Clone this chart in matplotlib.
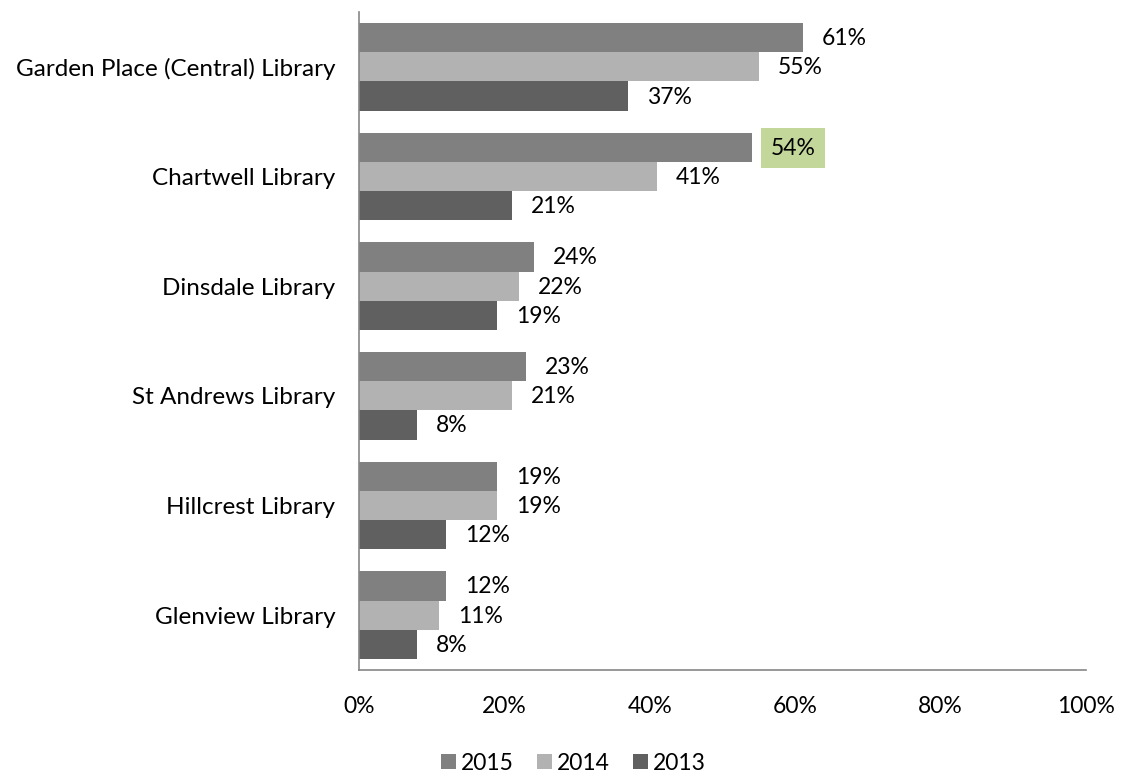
import matplotlib
matplotlib.use("Agg")
import matplotlib.pyplot as plt
from matplotlib.patches import Patch

categories = ["Garden Place (Central) Library", "Chartwell Library", "Dinsdale Library",
              "St Andrews Library", "Hillcrest Library", "Glenview Library"]
series_names = ["2015", "2014", "2013"]
v2015 = [61, 54, 24, 23, 19, 12]
v2014 = [55, 41, 22, 21, 19, 11]
v2013 = [37, 21, 19, 8, 12, 8]
xticks = [0, 20, 40, 60, 80, 100]
colors = ["#808080", "#B2B2B2", "#606060"]

plt.rcParams['font.family'] = ['Lato', 'DejaVu Sans']
fig = plt.figure(figsize=(11.21, 7.74), dpi=100)
ax = fig.add_axes([0.3203, 0.1344, 0.6485, 0.8501])

FS = 16.5
h = 29 / 109
offs = [-h, 0, h]
series = [v2015, v2014, v2013]
for s, (vals, off, col) in enumerate(zip(series, offs, colors)):
    for i, v in enumerate(vals):
        y = i + off
        ax.barh(y, v, height=h, color=col, edgecolor='none')
        bbox = None
        if s == 0 and i == 1:
            bbox = dict(boxstyle='square,pad=0.42', facecolor='#C4D79B', edgecolor='none')
        ax.annotate(f"{v}%", (v, y), xytext=(19, -1), textcoords='offset pixels',
                    va='center', ha='left', fontsize=FS, color='#000000', bbox=bbox)

ax.set_ylim(5.5, -0.5)
ax.set_xlim(0, 100)
ax.set_yticks(range(len(categories)))
ax.set_yticklabels(categories, fontsize=17.5)
ax.set_xticks(xticks)
ax.set_xticklabels([f"{t}%" for t in xticks], fontsize=FS)
ax.tick_params(axis='both', length=0)
ax.tick_params(axis='x', pad=19)
ax.tick_params(axis='y', pad=17)
for sp in ['top', 'right']:
    ax.spines[sp].set_visible(False)
for sp in ['left', 'bottom']:
    ax.spines[sp].set_color('#868686')
    ax.spines[sp].set_linewidth(1.2)

handles = [Patch(facecolor=c, edgecolor='none') for c in colors]
fig.legend(handles, series_names, loc='center', bbox_to_anchor=(0.5116, 0.014), ncol=3,
           frameon=False, fontsize=FS, handlelength=0.65, handleheight=0.65,
           handletextpad=0.22, columnspacing=1.0)

fig.savefig("out.png", dpi=100)
